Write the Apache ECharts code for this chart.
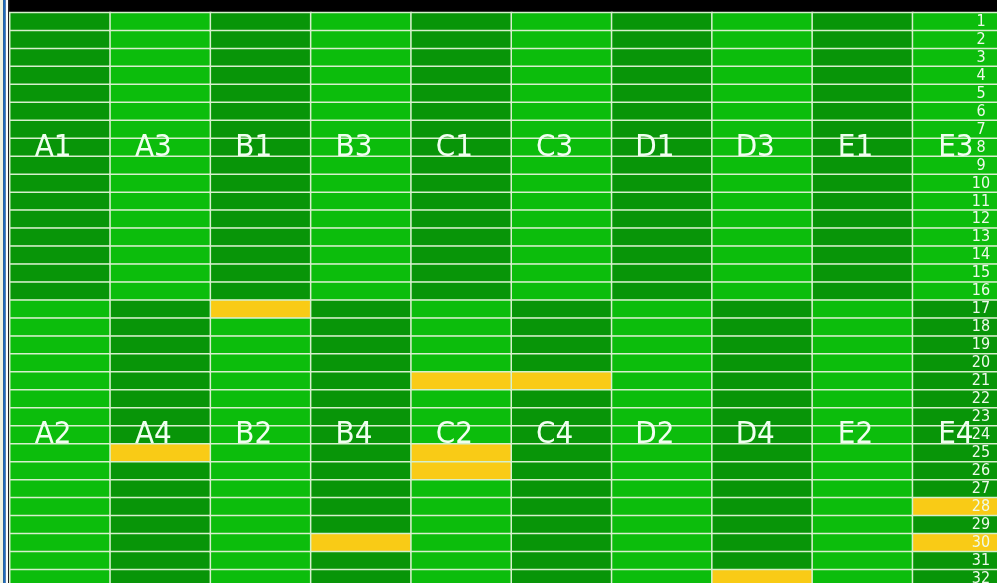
<!DOCTYPE html>
<html>
<head>
<meta charset="utf-8">
<script src="https://cdn.jsdelivr.net/npm/echarts@6/dist/echarts.min.js"></script>
<style>
    html, body { margin: 0; padding: 0; background: #000; }
    #main { width: 997px; height: 583px; }
</style>
</head>
<body>
<div id="main"></div>
<script>
// column names, top half and bottom half
var topNames = ['A1', 'A3', 'B1', 'B3', 'C1', 'C3', 'D1', 'D3', 'E1', 'E3'];
var bottomNames = ['A2', 'A4', 'B2', 'B4', 'C2', 'C4', 'D2', 'D4', 'E2', 'E4'];
// row tick labels
var rowLabels = ['1', '2', '3', '4', '5', '6', '7', '8', '9', '10', '11', '12', '13', '14', '15', '16',
    '17', '18', '19', '20', '21', '22', '23', '24', '25', '26', '27', '28', '29', '30', '31', '32'];
// shade per column: 0 = dark green, 1 = light green
var topShade = [0, 1, 0, 1, 0, 1, 0, 1, 0, 1];
var bottomShade = [1, 0, 1, 0, 1, 0, 1, 0, 1, 0];
// yellow cells: [column index, row number]
var yellowCells = [[2, 17], [4, 21], [5, 21], [1, 25], [4, 25], [4, 26], [3, 30], [9, 28], [9, 30], [7, 32]];
// rows that carry the column names
var topLabelRow = 8;
var bottomLabelRow = 24;

var chart = echarts.init(document.getElementById('main'));

// ==========================
// build heatmap cells
// ==========================
var cells = [];
for (var c = 0; c < topNames.length; c++) {
    for (var r = 0; r < rowLabels.length; r++) {
        var rowNo = r + 1;
        var v = rowNo <= 16 ? topShade[c] : bottomShade[c];
        for (var k = 0; k < yellowCells.length; k++) {
            if (yellowCells[k][0] == c && yellowCells[k][1] == rowNo) v = 2;
        }
        var item = { value: [c, r, v] };
        if (rowNo == topLabelRow || rowNo == bottomLabelRow) {
            item.label = {
                show: true,
                formatter: rowNo == topLabelRow ? topNames[c] : bottomNames[c]
            };
        }
        cells.push(item);
    }
}

var option = {
    backgroundColor: '#000',
    animation: false,
    grid: { left: 10, top: 12.7, width: 1003, height: 575, outerBoundsMode: 'none', containLabel: false },
    xAxis: {
        type: 'category',
        data: topNames,
        axisLine: { show: false },
        axisTick: { show: false },
        axisLabel: { show: false },
        splitLine: { show: false }
    },
    yAxis: {
        type: 'category',
        data: rowLabels,
        inverse: true,
        position: 'right',
        offset: -32,
        axisLine: { show: false },
        axisTick: { show: false },
        splitLine: { show: false },
        axisLabel: {
            interval: 0,
            hideOverlap: false,
            color: '#eefaea',
            fontFamily: 'DejaVu Sans Condensed',
            fontSize: 16,
            align: 'center',
            margin: 0
        },
        z: 10
    },
    visualMap: {
        type: 'piecewise',
        show: false,
        dimension: 2,
        pieces: [
            { value: 0, color: '#089508' },
            { value: 1, color: '#0cbd0c' },
            { value: 2, color: '#f9cb16' }
        ]
    },
    graphic: [
        { type: 'rect', shape: { x: 0, y: 0, width: 3.3, height: 583 }, style: { fill: '#f0f4e0' } },
        { type: 'rect', shape: { x: 3.3, y: 0, width: 2.4, height: 583 }, style: { fill: '#1e6ec4' } },
        { type: 'rect', shape: { x: 5.7, y: 0, width: 2.6, height: 583 }, style: { fill: '#ffffff' } },
        { type: 'rect', shape: { x: 8.3, y: 0, width: 1.7, height: 583 }, style: { fill: '#101010' } }
    ],
    series: [{
        type: 'heatmap',
        data: cells,
        itemStyle: { borderColor: '#d6f0cc', borderWidth: 1.5 },
        label: {
            color: '#f0fff0',
            fontFamily: 'DejaVu Sans Condensed',
            fontSize: 31,
            offset: [-7, 0]
        },
        emphasis: { disabled: true }
    }]
};

chart.setOption(option);
</script>
</body>
</html>
